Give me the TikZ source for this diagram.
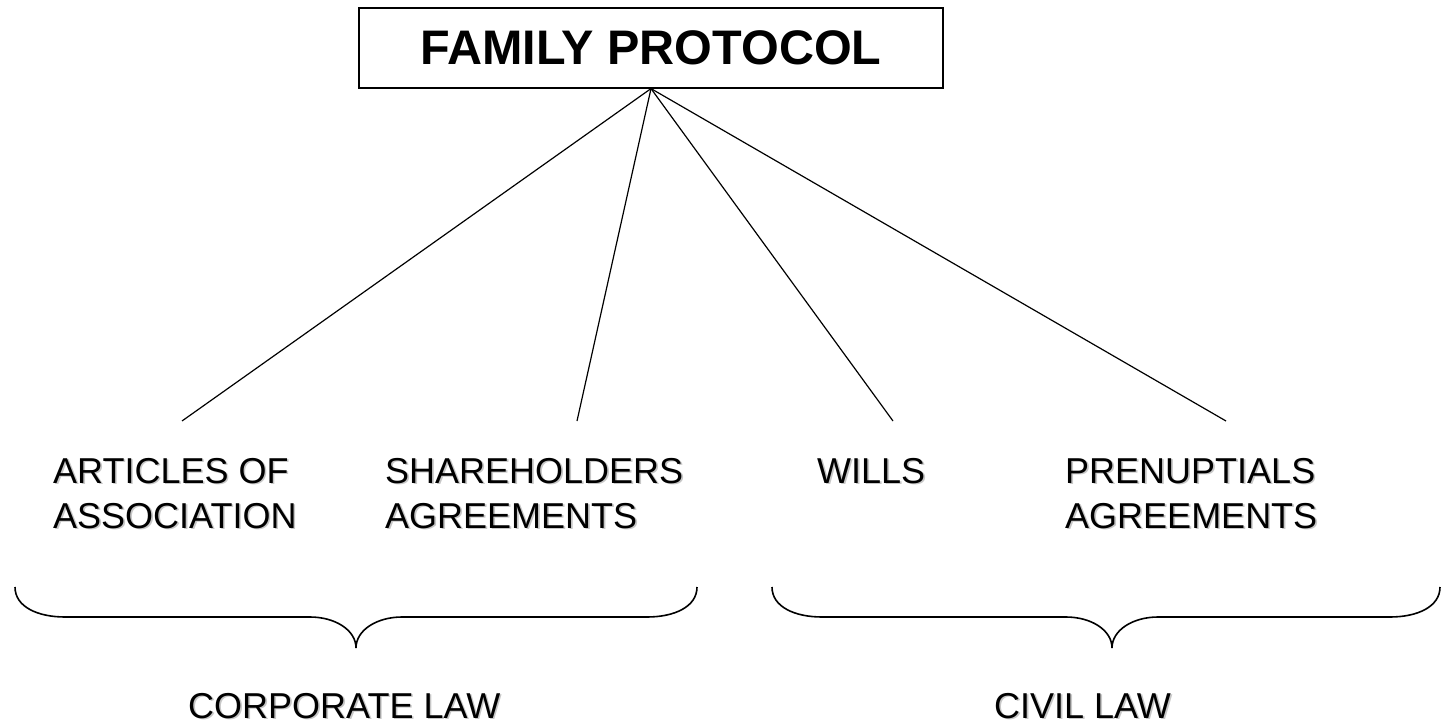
\documentclass[tikz,border=0pt]{standalone}
\usepackage{fontspec}
\setmainfont{Liberation Sans}
\usetikzlibrary{positioning}

% text with a soft grey drop shadow
\newcommand{\shadowlabel}[3]{%
  \node[doc text, text=black!22] at ([shift={(1.6,1.6)}]#2) {#3};
  \node[doc text] (#1) at (#2) {#3};
}

\begin{document}
\begin{tikzpicture}[x=1pt, y=-1pt,
    doc text/.style={anchor=base west, align=left, inner sep=0pt, text depth=0pt,
      font=\fontsize{36}{45}\selectfont},
    title box/.style={draw, line width=1.2pt, minimum width=584pt,
      minimum height=80pt, inner sep=0pt, font=\fontsize{48.5}{58}\selectfont\bfseries},
    branch/.style={line width=1.2pt},
    brace/.style={line width=1.6pt}]
  \useasboundingbox (0,0) rectangle (1445,727);

  \node[title box] (fp) at (651,48) {FAMILY PROTOCOL};

  % the four documents (base = last line)
  \shadowlabel{aoa}{53,528}{ARTICLES OF\\ASSOCIATION}
  \shadowlabel{sha}{385,528}{SHAREHOLDERS\\AGREEMENTS}
  \shadowlabel{wil}{817,483}{WILLS}
  \shadowlabel{pre}{1065,528}{PRENUPTIALS\\AGREEMENTS}

  \coordinate (aoa-top) at (182,421);
  \coordinate (sha-top) at (577,421);
  \coordinate (wil-top) at (893,421);
  \coordinate (pre-top) at (1226,421);

  \foreach \doc in {aoa, sha, wil, pre}
    \draw[branch] (fp.south) -- (\doc-top);

  % braces
  \draw[brace] (15,587) .. controls (15,607) and (38,617) .. (65,617) -- (310,617)
    .. controls (335,617) and (356,630) .. (356,648)
    .. controls (356,630) and (377,617) .. (402,617) -- (647,617)
    .. controls (674,617) and (697,607) .. (697,587);
  \draw[brace] (772,587) .. controls (772,607) and (795,617) .. (822,617) -- (1066,617)
    .. controls (1091,617) and (1112,630) .. (1112,648)
    .. controls (1112,630) and (1133,617) .. (1158,617) -- (1390,617)
    .. controls (1417,617) and (1440,607) .. (1440,587);

  \shadowlabel{corp}{188,718}{CORPORATE LAW}
  \shadowlabel{civil}{994,718}{CIVIL LAW}
\end{tikzpicture}
\end{document}
